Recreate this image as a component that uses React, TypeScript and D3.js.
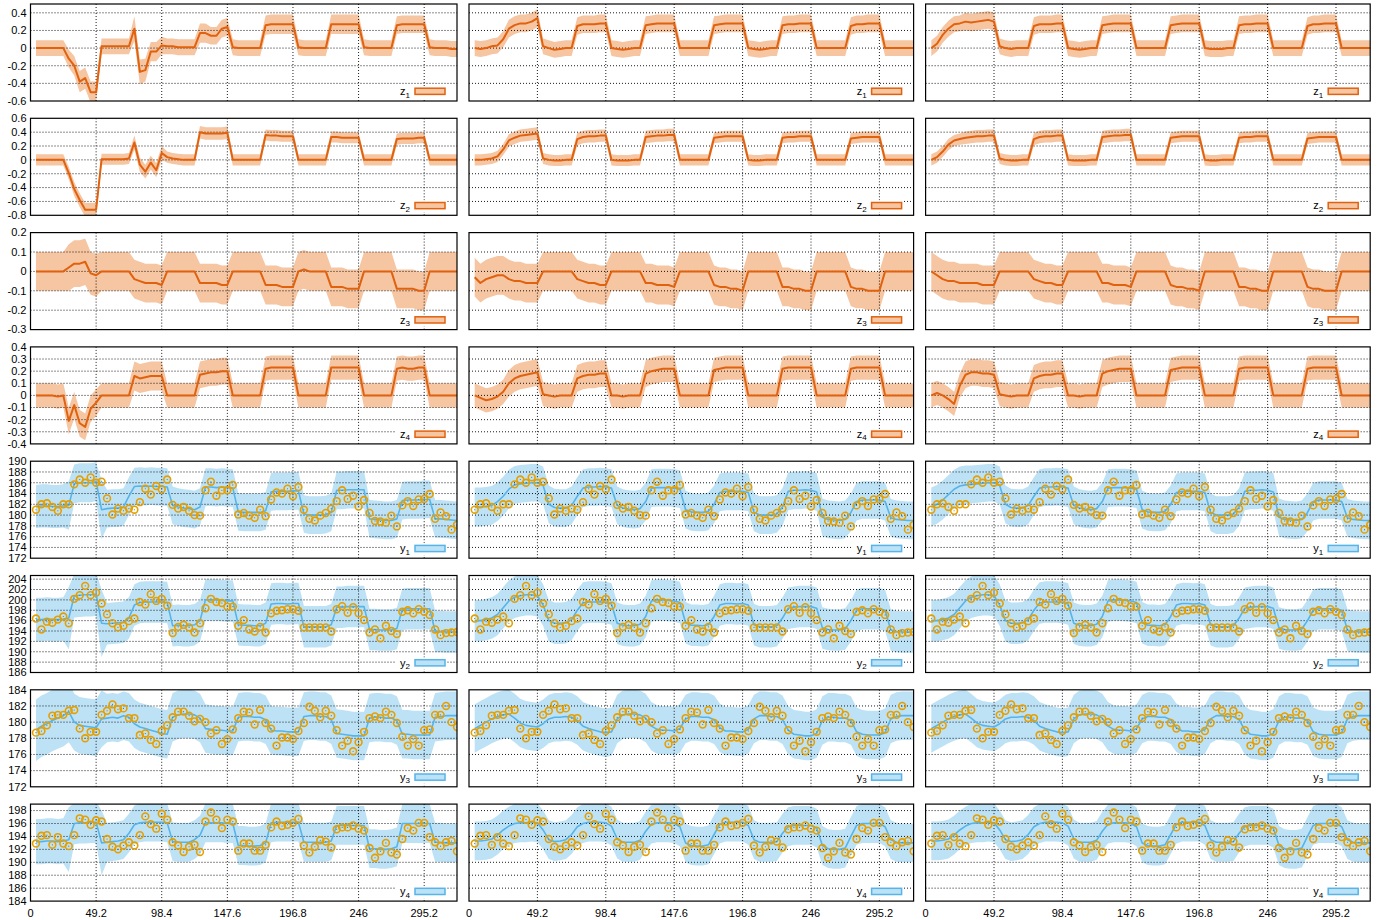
import React from 'react';
import * as d3 from 'd3';

// ---------- sampling grid ----------
const SAMPLE_DT = 4.1;
const X_MAX = 319.8;
const X_TICKS = [0, 49.2, 98.4, 147.6, 196.8, 246, 295.2];

// ---------- z states (hundredths) ----------
const Z1_C1 = [0,0,0,0,0,0,-12,-20,-38,-34,-50,-50,2,2,2,2,2,2,22,-27,-25,-4,-4,3,2,2,1,1,1,1,17,17,14,14,22,24,1,0,0,0,0,0,26,27,27,27,27,27,1,0,0,0,0,0,27,27,27,27,27,27,1,0,0,0,0,0,26,27,27,27,27,27,1,0,0,0,-1,-1];
const Z1_C1_HW = [9,9,9,9,9,9,10,11,12,12,12,12,9,9,9,9,9,9,14,14,13,11,11,10,9,9,9,9,9,9,11,11,10,10,10,10,9,9,9,9,9,9,11,11,11,11,11,11,9,9,9,9,9,9,11,11,11,11,11,11,9,9,9,9,9,9,10,10,10,10,10,10,9,9,9,9,9,9];
const Z1_C2 = [0,-1,0,2,3,10,22,26,28,28,30,34,2,0,-2,-1,0,0,25,27,27,27,28,28,0,-1,-2,-1,0,0,26,27,28,28,28,28,0,0,0,0,0,0,26,27,28,28,28,28,0,-1,-2,-1,0,0,26,27,27,28,28,28,0,0,0,0,0,0,25,27,27,28,28,28,0,0,0,0,0,0];
const Z1_C2_HW = [9,9,9,9,9,9,10,10,10,10,10,10,9,9,9,9,9,9,10,10,10,10,10,10,9,9,9,9,9,9,10,10,10,10,10,10,9,9,9,9,9,9,10,10,10,10,10,10,9,9,9,9,9,9,10,10,10,10,10,10,9,9,9,9,9,9,10,10,10,10,10,10,9,9,9,9,9,9];
const Z1_C3 = [0,5,15,22,27,28,30,29,30,31,32,30,2,0,-1,0,0,0,25,27,27,27,28,28,0,-1,-2,-1,0,0,26,27,28,28,28,28,0,0,0,0,0,0,26,27,28,28,28,28,0,-1,-1,-1,0,0,26,27,27,28,28,28,0,0,0,0,0,0,25,27,27,28,28,28,0,0,0,0,0,0];
const Z1_C3_HW = [9,9,9,9,9,9,10,10,10,10,10,10,9,9,9,9,9,9,10,10,10,10,10,10,9,9,9,9,9,9,10,10,10,10,10,10,9,9,9,9,9,9,10,10,10,10,10,10,9,9,9,9,9,9,10,10,10,10,10,10,9,9,9,9,9,9,10,10,10,10,10,10,9,9,9,9,9,9];

const Z2_C1 = [0,0,0,0,0,0,-19,-42,-58,-72,-72,-72,1,1,1,1,1,2,25,-7,-17,-4,-15,10,4,2,1,0,0,0,40,38,38,38,38,39,0,0,0,0,0,0,36,35,35,34,34,34,0,0,0,0,0,0,33,33,32,32,32,32,0,0,0,0,0,0,30,31,31,31,32,32,0,0,0,0,0,0];
const Z2_C1_HW = [8,8,8,8,8,8,9,10,10,10,10,10,8,8,8,8,8,8,10,10,10,10,10,10,8,8,8,8,8,8,9,9,9,9,9,9,8,8,8,8,8,8,8,8,8,8,8,8,8,8,8,8,8,8,8,8,8,8,8,8,8,8,8,8,8,8,8,8,8,8,8,8,8,8,8,8,8,8];
const Z2_C2 = [0,0,1,2,5,15,28,32,35,36,37,38,2,0,-1,-1,0,0,30,33,34,34,35,35,0,-1,-1,-1,0,0,33,34,35,35,36,36,0,0,0,0,0,0,32,33,34,34,34,34,0,-1,-1,0,0,0,32,33,33,34,34,34,0,0,0,0,0,0,31,32,33,33,33,33,0,0,0,0,0,0];
const Z2_C2_HW = [8,8,8,8,8,8,9,9,9,9,9,9,8,8,8,8,8,8,9,9,9,9,9,9,8,8,8,8,8,8,9,9,9,9,9,9,8,8,8,8,8,8,8,8,8,8,8,8,8,8,8,8,8,8,8,8,8,8,8,8,8,8,8,8,8,8,8,8,8,8,8,8,8,8,8,8,8,8];
const Z2_C3 = [0,4,12,22,28,30,32,33,34,34,35,35,2,0,-1,-1,0,0,30,33,34,34,35,35,0,-1,-1,-1,0,0,33,34,35,35,36,36,0,0,0,0,0,0,32,33,34,34,34,34,0,-1,-1,0,0,0,32,33,33,34,34,34,0,0,0,0,0,0,31,32,33,33,33,33,0,0,0,0,0,0];
const Z2_C3_HW = [8,8,8,8,8,8,9,9,9,9,9,9,8,8,8,8,8,8,9,9,9,9,9,9,8,8,8,8,8,8,9,9,9,9,9,9,8,8,8,8,8,8,8,8,8,8,8,8,8,8,8,8,8,8,8,8,8,8,8,8,8,8,8,8,8,8,8,8,8,8,8,8,8,8,8,8,8,8];

const Z3_C1 = [0,0,0,0,0,0,2,4,4,5,-1,-2,0,0,0,0,0,0,-4,-5,-6,-6,-6,-7,0,0,0,0,0,0,-6,-6,-6,-6,-7,-7,0,0,0,0,0,0,-7,-7,-7,-8,-8,-8,0,1,0,0,0,0,-8,-8,-8,-9,-9,-9,0,0,0,0,0,0,-9,-9,-9,-9,-10,-10,0,0,0,0,0,0];
const Z3_C1_HW = [10,10,10,10,10,10,12,12,12,12,11,11,10,10,10,10,10,10,10,10,10,10,10,10,10,10,10,10,10,10,10,10,10,10,10,10,10,10,10,10,10,10,10,10,10,10,10,10,10,10,10,10,10,10,10,10,10,10,10,10,10,10,10,10,10,10,10,10,10,10,10,10,10,10,10,10,10,10];
const Z3_C2 = [-3,-6,-4,-3,-2,-2,-4,-5,-5,-6,-6,-6,0,0,0,0,0,0,-4,-5,-6,-6,-7,-7,0,0,0,0,0,0,-6,-6,-7,-7,-7,-8,0,0,0,0,0,0,-7,-8,-8,-9,-9,-10,0,0,0,0,0,0,-8,-8,-9,-9,-10,-10,0,0,0,0,0,0,-8,-9,-9,-10,-10,-10,0,0,0,0,0,0];
const Z3_C2_HW = [10,10,10,10,10,10,10,10,10,10,10,10,10,10,10,10,10,10,10,10,10,10,10,10,10,10,10,10,10,10,10,10,10,10,10,10,10,10,10,10,10,10,10,10,10,10,10,10,10,10,10,10,10,10,10,10,10,10,10,10,10,10,10,10,10,10,10,10,10,10,10,10,10,10,10,10,10,10];
const Z3_C3 = [0,-2,-4,-5,-5,-6,-6,-6,-6,-7,-7,-7,0,0,0,0,0,0,-4,-5,-6,-6,-7,-7,0,0,0,0,0,0,-6,-6,-7,-7,-7,-8,0,0,0,0,0,0,-7,-8,-8,-9,-9,-10,0,0,0,0,0,0,-8,-8,-9,-9,-10,-10,0,0,0,0,0,0,-8,-9,-9,-10,-10,-10,0,0,0,0,0,0];
const Z3_C3_HW = [10,10,10,10,10,10,10,10,10,10,10,10,10,10,10,10,10,10,10,10,10,10,10,10,10,10,10,10,10,10,10,10,10,10,10,10,10,10,10,10,10,10,10,10,10,10,10,10,10,10,10,10,10,10,10,10,10,10,10,10,10,10,10,10,10,10,10,10,10,10,10,10,10,10,10,10,10,10];

const Z4_C1 = [0,0,0,0,-1,0,-21,-8,-23,-26,-11,-6,0,0,0,0,0,0,16,14,15,16,16,16,0,0,0,0,0,0,17,18,19,19,20,20,0,0,0,0,0,0,22,23,23,23,23,23,0,0,0,0,0,0,23,23,23,23,23,23,0,0,0,0,0,0,22,23,22,22,23,23,0,0,0,0,0,0];
const Z4_C1_HW = [10,10,10,10,10,10,11,11,11,11,11,11,10,10,10,10,10,10,12,12,12,12,12,12,10,10,10,10,10,10,11,11,11,11,11,11,10,10,10,10,10,10,10,10,10,10,10,10,10,10,10,10,10,10,10,10,10,10,10,10,10,10,10,10,10,10,10,10,10,10,10,10,10,10,10,10,10,10];
const Z4_C2 = [0,-2,-4,-3,-1,3,10,14,16,17,18,19,1,0,-1,0,0,0,14,16,17,17,18,18,0,0,-1,0,0,0,18,20,21,22,22,22,0,0,0,0,0,0,21,22,23,23,23,23,0,0,0,0,0,0,22,23,23,23,23,23,0,0,0,0,0,0,22,23,23,23,23,23,0,0,0,0,0,0];
const Z4_C2_HW = [10,10,10,10,10,10,11,11,11,11,11,11,10,10,10,10,10,10,11,11,11,11,11,11,10,10,10,10,10,10,11,11,11,11,11,11,10,10,10,10,10,10,10,10,10,10,10,10,10,10,10,10,10,10,10,10,10,10,10,10,10,10,10,10,10,10,10,10,10,10,10,10,10,10,10,10,10,10];
const Z4_C3 = [0,2,0,-3,-7,8,17,19,19,18,18,17,1,0,-1,0,0,0,14,16,17,17,18,18,0,0,-1,0,0,0,18,20,21,22,22,22,0,0,0,0,0,0,21,22,23,23,23,23,0,0,0,0,0,0,22,23,23,23,23,23,0,0,0,0,0,0,22,23,23,23,23,23,0,0,0,0,0,0];
const Z4_C3_HW = [10,10,10,10,10,10,11,11,11,11,11,11,10,10,10,10,10,10,11,11,11,11,11,11,10,10,10,10,10,10,11,11,11,11,11,11,10,10,10,10,10,10,10,10,10,10,10,10,10,10,10,10,10,10,10,10,10,10,10,10,10,10,10,10,10,10,10,10,10,10,10,10,10,10,10,10,10,10];

// ---------- y outputs: predicted line ----------
const Y1_C1 = [181.6,181.7,181.7,181.6,181.6,181.7,181.8,185.8,186,186,186,186.2,181,181.2,181.3,181.3,181.5,183.5,185.3,185.4,185.3,185.4,185.3,185.3,185.2,181.8,181.5,181.3,181.2,181,181.5,185.2,185.2,185.1,185.2,185.1,185,180.6,180.5,180.5,180.5,180.5,180.8,184.3,184.4,184.4,184.4,184.5,184.5,180.2,180,180,180,180.1,180.5,184.6,184.6,184.7,184.7,184.7,184.7,179.3,179.2,179.1,179,179,179.3,182.7,182.8,182.8,182.8,182.9,182.9,179.3,179.3,179.2,179.1,179];
const Y1_C1_HW = [4,4,4,4,4,4,4.5,3.6,3.6,3.6,3.6,3.6,5.5,3.5,3.5,3.5,3.5,3.5,3.5,3.5,3.5,3.5,3.5,3.5,3.5,3.5,3.5,3.5,3.5,3.5,3.5,3.5,3.5,3.5,3.5,3.5,3.5,3.5,3.5,3.5,3.5,3.5,3.5,3.5,3.5,3.5,3.5,3.5,3.5,3.5,3.5,3.5,3.5,3.5,3.5,3.5,3.5,3.5,3.5,3.5,3.5,3.5,3.5,3.5,3.5,3.5,3.5,3.5,3.5,3.5,3.5,3.5,3.5,3.5,3.5,3.5,3.5,3.5];
const Y1_C2 = [181.5,181.5,181.6,181.8,182.5,183.5,184.8,185.6,185.8,185.9,186,186,185.5,182,181.4,181.3,181.3,181.8,183.5,185,185.2,185.2,185.3,185.2,185,181.8,181.3,181.1,181,181.2,182.5,185,185.1,185.1,185.1,185,184.8,181,180.6,180.5,180.5,180.7,182,184.2,184.4,184.4,184.4,184.4,184.2,180.5,180,180,180,180.2,181.5,184.4,184.6,184.6,184.7,184.6,184.3,179.6,179.2,179.1,179,179.2,180.5,182.5,182.8,182.8,182.8,182.8,182.5,179.5,179.2,179.1,179,179];
const Y1_C2_HW = [3.6,3.6,3.6,3.6,3.6,3.6,3.6,3.5,3.5,3.5,3.5,3.5,3.5,3.5,3.5,3.5,3.5,3.5,3.5,3.5,3.5,3.5,3.5,3.5,3.5,3.5,3.5,3.5,3.5,3.5,3.5,3.5,3.5,3.5,3.5,3.5,3.5,3.5,3.5,3.5,3.5,3.5,3.5,3.5,3.5,3.5,3.5,3.5,3.5,3.5,3.5,3.5,3.5,3.5,3.5,3.5,3.5,3.5,3.5,3.5,3.5,3.5,3.5,3.5,3.5,3.5,3.5,3.5,3.5,3.5,3.5,3.5,3.5,3.5,3.5,3.5,3.5,3.5];
const Y1_C3 = [181.5,182,182.8,183.8,184.8,185.4,185.6,185.7,185.8,185.9,186,186,185.5,182,181.4,181.3,181.3,181.8,183.5,185,185.2,185.2,185.3,185.2,185,181.8,181.3,181.1,181,181.2,182.5,185,185.1,185.1,185.1,185,184.8,181,180.6,180.5,180.5,180.7,182,184.2,184.4,184.4,184.4,184.4,184.2,180.5,180,180,180,180.2,181.5,184.4,184.6,184.6,184.7,184.6,184.3,179.6,179.2,179.1,179,179.2,180.5,182.5,182.8,182.8,182.8,182.8,182.5,179.5,179.2,179.1,179,179];
const Y1_C3_HW = Y1_C2_HW;

const Y2_C1 = [196.2,196.2,196.3,196.2,196.2,196.3,196.5,200.8,200.9,201,201,201.1,195.5,195.4,195.5,195.6,195.7,196.5,199,199.5,199.6,199.6,199.6,199.6,199.5,195,195.1,195,195,195.2,196,200,200,200,199.9,199.8,199.8,195.2,195.1,195.1,195,195,195.5,199.2,199.3,199.3,199.2,199.3,199.3,194.8,194.8,194.8,194.8,194.8,195.2,198.6,198.6,198.7,198.7,198.7,198.7,194.3,194.3,194.2,194.2,194.2,194.5,198.2,198.3,198.3,198.3,198.3,198.3,193.9,193.9,193.8,193.8,193.8];
const Y2_C1_HW = [4.2,4.2,4.2,4.2,4.2,4.2,6,4.2,4.2,4.2,4.2,4.2,6.5,4,4,4,4,4,4,4,4,4,4,4,4,4,4,4,4,4,4,4,4,4,4,4,4,4,4,4,4,4,4,4,4,4,4,4,4,4,4,4,4,4,4,4,4,4,4,4,4,4,4,4,4,4,4,4,4,4,4,4,4,4,4,4,4,4];
const Y2_C2 = [196,196,196.2,196.5,197.2,198.5,199.8,200.5,200.8,201,201,200.8,199,196,195.5,195.5,195.6,196.2,198,199.4,199.6,199.6,199.6,199.5,199.2,195.5,195.1,195,195,195.3,196.8,199.8,200,200,199.9,199.8,199.5,195.6,195.1,195.1,195,195.2,196.8,199,199.3,199.3,199.2,199.3,199,195.2,194.8,194.8,194.8,195,196.5,198.4,198.6,198.7,198.7,198.7,198.4,194.6,194.3,194.2,194.2,194.4,196,198,198.3,198.3,198.3,198.3,198,194.2,193.9,193.8,193.8,193.8];
const Y2_C2_HW = [4,4,4,4,4,4,4,4,4,4,4,4,4,4,4,4,4,4,4,4,4,4,4,4,4,4,4,4,4,4,4,4,4,4,4,4,4,4,4,4,4,4,4,4,4,4,4,4,4,4,4,4,4,4,4,4,4,4,4,4,4,4,4,4,4,4,4,4,4,4,4,4,4,4,4,4,4,4];
const Y2_C3 = Y2_C2;
const Y2_C3_HW = Y2_C2_HW;

const Y3_C1 = [179,179.5,179.8,180.2,180.5,180.8,181.3,180,179.6,179.5,179.4,179.3,180.4,180.5,180.6,180.5,180.8,180.6,179.8,179.4,179.2,179,178.8,178.6,178.5,180.6,180.9,181,181,180.9,180.5,179.2,179.1,179,179,178.9,178.9,180.6,180.7,180.7,180.6,180.6,180.3,179,178.9,178.9,178.8,178.8,178.8,180.7,180.8,180.8,180.7,180.7,180.3,178.6,178.5,178.4,178.3,178.3,178.3,180.5,180.6,180.6,180.5,180.5,180.2,178.5,178.5,178.4,178.4,178.4,178.4,180.6,180.7,180.8,180.8,180.8];
const Y3_C1_HW = [3.8,3.8,3.8,3.8,3.8,3.8,3.8,3.5,3.5,3.5,3.5,3.5,3.5,3,3,3,3,3,3,3,3,3,3,3,3,3,3,3,3,3,3,3,3,3,3,3,3,3,3,3,3,3,3,3,3,3,3,3,3,3,3,3,3,3,3,3,3,3,3,3,3,3,3,3,3,3,3,3,3,3,3,3,3,3,3,3,3,3];
const Y3_C2 = [179.2,179.6,180,180.4,180.7,180.9,181,180.5,179.9,179.6,179.5,179.4,179.8,180.4,180.6,180.6,180.7,180.6,180.2,179.5,179.2,179,178.8,178.7,178.8,180.4,180.9,181,181,180.9,180.5,179.5,179.1,179,179,178.9,179.2,180.4,180.7,180.7,180.6,180.6,180.3,179.3,178.9,178.9,178.8,178.8,179.1,180.4,180.8,180.8,180.7,180.7,180.3,179,178.5,178.4,178.3,178.3,178.6,180.2,180.6,180.6,180.5,180.5,180.2,178.8,178.5,178.4,178.4,178.4,178.7,180.4,180.7,180.8,180.8,180.8];
const Y3_C2_HW = [3,3,3,3,3,3,3,3,3,3,3,3,3,3,3,3,3,3,3,3,3,3,3,3,3,3,3,3,3,3,3,3,3,3,3,3,3,3,3,3,3,3,3,3,3,3,3,3,3,3,3,3,3,3,3,3,3,3,3,3,3,3,3,3,3,3,3,3,3,3,3,3,3,3,3,3,3,3];
const Y3_C3 = Y3_C2;
const Y3_C3_HW = Y3_C2_HW;

const Y4_C1 = [193.2,193.2,193.3,193.3,193.2,193.3,193.5,196,196.1,196.1,196.2,196.2,193,193.1,193.2,193.3,193.5,194.5,195.8,196.1,196.2,196.2,196.2,196.2,196.1,193.2,193.1,193.1,193.1,193.5,194.2,196.1,196.1,196.1,196.1,196,196,192.6,192.6,192.5,192.5,192.6,193,196.1,196.2,196.2,196.2,196.2,196.2,193.1,193.1,193.1,193.1,193.1,193.3,195.7,195.7,195.7,195.7,195.7,195.7,192.1,192.1,192,192,192.1,192.4,196,196,196,196,196,196,193.1,193.1,193,193,193];
const Y4_C1_HW = [3.5,3.5,3.5,3.5,3.5,3.5,5,3.2,3.2,3.2,3.2,3.2,5,3,3,3,3,3,3,3,3,3,3,3,3,3,3,3,3,3,3,3,3,3,3,3,3,3,3,3,3,3,3,3,3,3,3,3,3,3,3,3,3,3,3,3,3,3,3,3,3,3,3,3,3,3,3,3,3,3,3,3,3,3,3,3,3,3];
const Y4_C2 = [193.3,193.3,193.4,193.6,194.2,195,195.6,196,196.1,196.1,196.2,196.1,195,193.5,193.2,193.3,193.5,194.3,195.5,196,196.2,196.2,196.2,196.1,195.6,193.6,193.1,193.1,193.1,193.4,194.8,195.9,196.1,196.1,196.1,196,195.5,193,192.6,192.5,192.5,192.7,194.3,195.9,196.2,196.2,196.2,196.2,195.7,193.5,193.1,193.1,193.1,193.2,194.5,195.5,195.7,195.7,195.7,195.7,195.3,192.6,192.1,192,192,192.2,194,195.7,196,196,196,196,195.5,193.5,193.1,193,193,193];
const Y4_C2_HW = [3,3,3,3,3,3,3,3,3,3,3,3,3,3,3,3,3,3,3,3,3,3,3,3,3,3,3,3,3,3,3,3,3,3,3,3,3,3,3,3,3,3,3,3,3,3,3,3,3,3,3,3,3,3,3,3,3,3,3,3,3,3,3,3,3,3,3,3,3,3,3,3,3,3,3,3,3,3];
const Y4_C3 = Y4_C2;
const Y4_C3_HW = Y4_C2_HW;

// ---------- y observations (same in every column) ----------
const Y1_OBS = [181.0,182.0,182.2,181.5,180.8,182.0,182.0,185.7,186.6,186.0,187.0,186.0,186.2,183.1,180.1,181.2,180.8,181.2,181.0,182.4,184.9,183.8,185.4,184.8,186.6,181.9,181.2,181.5,180.8,180.0,179.9,184.6,186.2,183.6,184.6,184.6,185.6,180.1,180.4,179.9,179.5,181.0,179.8,182.9,184.2,184.0,184.9,183.5,185.2,181.0,179.3,179.0,179.9,180.4,181.2,182.6,184.6,183.0,183.6,181.6,182.8,180.4,178.9,178.8,178.6,179.9,177.9,181.8,182.6,181.7,182.9,183.0,183.9,179.3,180.5,179.8,177.3,178.2];
const Y2_OBS = [196.4,194.3,195.8,195.6,196.2,196.8,195.5,200.2,200.9,202.7,200.9,201.4,199.3,197.2,195.5,194.7,195.0,195.9,196.4,199.6,199.1,201.1,199.8,200.2,198.9,193.6,194.8,195.2,194.7,193.7,195.5,198.4,200.2,199.6,199.4,198.7,198.7,195.0,196.1,194.3,193.9,194.8,193.7,197.4,197.9,198.0,198.2,198.2,197.9,194.7,194.7,194.7,194.7,194.7,193.9,198.2,198.8,197.5,198.6,197.4,196.1,193.7,194.3,192.6,195.0,194.0,193.4,197.7,198.0,197.4,198.2,197.7,197.1,194.3,193.2,193.6,193.7,193.8];
const Y3_OBS = [178.7,178.9,179.6,180.8,180.9,180.9,181.4,181.5,179.2,178.0,178.8,178.8,180.9,181.4,182.2,181.6,181.7,180.5,180.5,178.4,178.6,177.8,177.3,178.9,179.6,180.6,181.3,181.3,180.8,180.1,180.4,180.0,178.6,179.0,177.3,177.9,179.1,180.5,181.3,181.2,179.7,181.5,179.9,179.2,177.1,178.1,178.1,177.9,178.9,179.9,181.9,181.4,180.6,181.4,180.8,179.0,177.1,177.7,176.4,177.5,178.8,180.5,180.7,180.5,181.3,180.9,179.9,178.2,177.1,177.9,177.1,179.0,179.1,180.9,180.9,182.0,180.0,179.4];
const Y4_OBS = [192.9,194.1,194.2,192.7,193.9,192.9,192.5,194.2,196.8,196.6,195.8,196.5,196.3,193.6,192.4,192.0,192.6,193.1,192.6,194.2,197.1,195.9,195.2,197.5,196.6,193.1,192.6,191.6,192.4,192.7,191.6,196.3,197.7,196.6,195.3,196.6,196.3,191.8,192.9,192.9,191.8,191.8,192.7,195.4,196.3,195.6,195.8,196.1,196.7,192.6,191.5,192.4,193.4,193.2,192.3,195.1,195.4,195.4,195.7,195.2,194.9,192.2,190.7,191.7,193.0,191.5,191.2,193.6,195.3,194.9,196.1,196.1,193.9,193.1,192.5,193.1,193.3,191.7];

// ---------- panel rows ----------
type Row = {
  base: string; sub: string; kind: 'z' | 'y'; unit: number;
  domain: [number, number]; ticks: number[];
  lines: number[][]; hw: number[][]; obs?: number[];
};

const ROWS: Row[] = [
  { base: 'z', sub: '1', kind: 'z', unit: 0.01, domain: [-0.6, 0.5], ticks: [-0.6, -0.4, -0.2, 0, 0.2, 0.4], lines: [Z1_C1, Z1_C2, Z1_C3], hw: [Z1_C1_HW, Z1_C2_HW, Z1_C3_HW] },
  { base: 'z', sub: '2', kind: 'z', unit: 0.01, domain: [-0.8, 0.6], ticks: [-0.8, -0.6, -0.4, -0.2, 0, 0.2, 0.4, 0.6], lines: [Z2_C1, Z2_C2, Z2_C3], hw: [Z2_C1_HW, Z2_C2_HW, Z2_C3_HW] },
  { base: 'z', sub: '3', kind: 'z', unit: 0.01, domain: [-0.3, 0.2], ticks: [-0.3, -0.2, -0.1, 0, 0.1, 0.2], lines: [Z3_C1, Z3_C2, Z3_C3], hw: [Z3_C1_HW, Z3_C2_HW, Z3_C3_HW] },
  { base: 'z', sub: '4', kind: 'z', unit: 0.01, domain: [-0.4, 0.4], ticks: [-0.4, -0.3, -0.2, -0.1, 0, 0.1, 0.2, 0.3, 0.4], lines: [Z4_C1, Z4_C2, Z4_C3], hw: [Z4_C1_HW, Z4_C2_HW, Z4_C3_HW] },
  { base: 'y', sub: '1', kind: 'y', unit: 1, domain: [172, 190], ticks: [172, 174, 176, 178, 180, 182, 184, 186, 188, 190], lines: [Y1_C1, Y1_C2, Y1_C3], hw: [Y1_C1_HW, Y1_C2_HW, Y1_C3_HW], obs: Y1_OBS },
  { base: 'y', sub: '2', kind: 'y', unit: 1, domain: [186, 204.7], ticks: [186, 188, 190, 192, 194, 196, 198, 200, 202, 204], lines: [Y2_C1, Y2_C2, Y2_C3], hw: [Y2_C1_HW, Y2_C2_HW, Y2_C3_HW], obs: Y2_OBS },
  { base: 'y', sub: '3', kind: 'y', unit: 1, domain: [172, 184], ticks: [172, 174, 176, 178, 180, 182, 184], lines: [Y3_C1, Y3_C2, Y3_C3], hw: [Y3_C1_HW, Y3_C2_HW, Y3_C3_HW], obs: Y3_OBS },
  { base: 'y', sub: '4', kind: 'y', unit: 1, domain: [184, 199], ticks: [184, 186, 188, 190, 192, 194, 196, 198], lines: [Y4_C1, Y4_C2, Y4_C3], hw: [Y4_C1_HW, Y4_C2_HW, Y4_C3_HW], obs: Y4_OBS },
];

// ---------- layout & style ----------
const COL_LEFT = [30.5, 469, 925.6];
const COL_W = [426.5, 444.6, 444.6];
const ROW_TOP0 = 4;
const ROW_PITCH = 114.3;
const ROW_H = 97;
const FONT = '"Liberation Sans", Arial, Helvetica, sans-serif';

const Z_LINE = '#e0620f';
const Z_BAND = '#f6c5a1';
const Y_LINE = '#56b4e9';
const Y_BAND = '#bde2f6';
const OBS = '#e69f00';

const fmt = (v: number) => String(Math.round(v * 100) / 100);

function Panel({ r, c }: { r: number; c: number }) {
  const row = ROWS[r];
  const left = COL_LEFT[c];
  const w = COL_W[c];
  const top = ROW_TOP0 + ROW_PITCH * r;
  const h = ROW_H;
  const x = d3.scaleLinear().domain([0, X_MAX]).range([left, left + w]);
  const y = d3.scaleLinear().domain(row.domain).range([top + h, top]);
  const vals = row.lines[c].map((v) => v * row.unit);
  const hw = row.hw[c].map((v) => v * row.unit);
  const tOf = (i: number) => (i + 1) * SAMPLE_DT;

  const area = d3.area<number>()
    .x((_, i) => x(tOf(i)))
    .y0((v, i) => y(v - hw[i]))
    .y1((v, i) => y(v + hw[i]));
  const line = d3.line<number>().x((_, i) => x(tOf(i))).y((v) => y(v));

  const isZ = row.kind === 'z';
  const clipId = `clip-${r}-${c}`;
  const right = left + w;
  const bottom = top + h;
  const legRectR = right - 12;

  return (
    <g>
      <defs>
        <clipPath id={clipId}>
          <rect x={left} y={top} width={w} height={h} />
        </clipPath>
      </defs>
      <g clipPath={`url(#${clipId})`}>
        <path d={area(vals) || ''} fill={isZ ? Z_BAND : Y_BAND} stroke="none" />
        {row.ticks.filter((t) => t > row.domain[0] && t < row.domain[1]).map((t) => (
          <line key={'gy' + t} x1={left} x2={right} y1={y(t)} y2={y(t)} stroke="#000" strokeWidth={0.9} strokeDasharray="1,2" />
        ))}
        {X_TICKS.filter((t) => t > 0).map((t) => (
          <line key={'gx' + t} x1={x(t)} x2={x(t)} y1={top} y2={bottom} stroke="#000" strokeWidth={0.9} strokeDasharray="1,2" />
        ))}
        <path d={line(vals) || ''} fill="none" stroke={isZ ? Z_LINE : Y_LINE} strokeWidth={isZ ? 2 : 1.6} strokeLinejoin="round" />
        {row.obs && row.obs.map((v, i) => (
          <g key={'o' + i}>
            <circle cx={x(tOf(i))} cy={y(v)} r={3.4} fill="none" stroke={OBS} strokeWidth={1.6} />
            <circle cx={x(tOf(i))} cy={y(v)} r={0.55} fill="#8a6a00" />
          </g>
        ))}
      </g>
      <rect x={legRectR - 50} y={bottom - 15} width={52} height={12} fill="#fff" />
      <text x={legRectR - 35} y={bottom - 6} fontFamily={FONT} fontSize={11} textAnchor="end" fill="#000">
        {row.base}
        <tspan fontSize={8} dy={2.5}>{row.sub}</tspan>
      </text>
      <rect x={legRectR - 30} y={bottom - 12.8} width={30} height={6.2}
        fill={isZ ? Z_BAND : Y_BAND} stroke={isZ ? Z_LINE : Y_LINE} strokeWidth={1.5} />
      <rect x={left} y={top} width={w} height={h} fill="none" stroke="#000" strokeWidth={1.2} />
      {c === 0 && row.ticks.map((t) => (
        <text key={'yl' + t} x={left - 4} y={y(t)} dy="0.35em" fontFamily={FONT} fontSize={11} textAnchor="end" fill="#000">{fmt(t)}</text>
      ))}
      {r === ROWS.length - 1 && X_TICKS.map((t) => (
        <text key={'xl' + t} x={x(t)} y={bottom + 16} fontFamily={FONT} fontSize={11} textAnchor="middle" fill="#000">{fmt(t)}</text>
      ))}
    </g>
  );
}

export default function App() {
  return (
    <svg width={1390} height={920} style={{ position: 'absolute', left: 0, top: 0, background: '#fff' }}>
      <rect x={0} y={0} width={1390} height={920} fill="#fff" />
      {ROWS.map((_, r) => [0, 1, 2].map((c) => <Panel key={r + '-' + c} r={r} c={c} />))}
    </svg>
  );
}
